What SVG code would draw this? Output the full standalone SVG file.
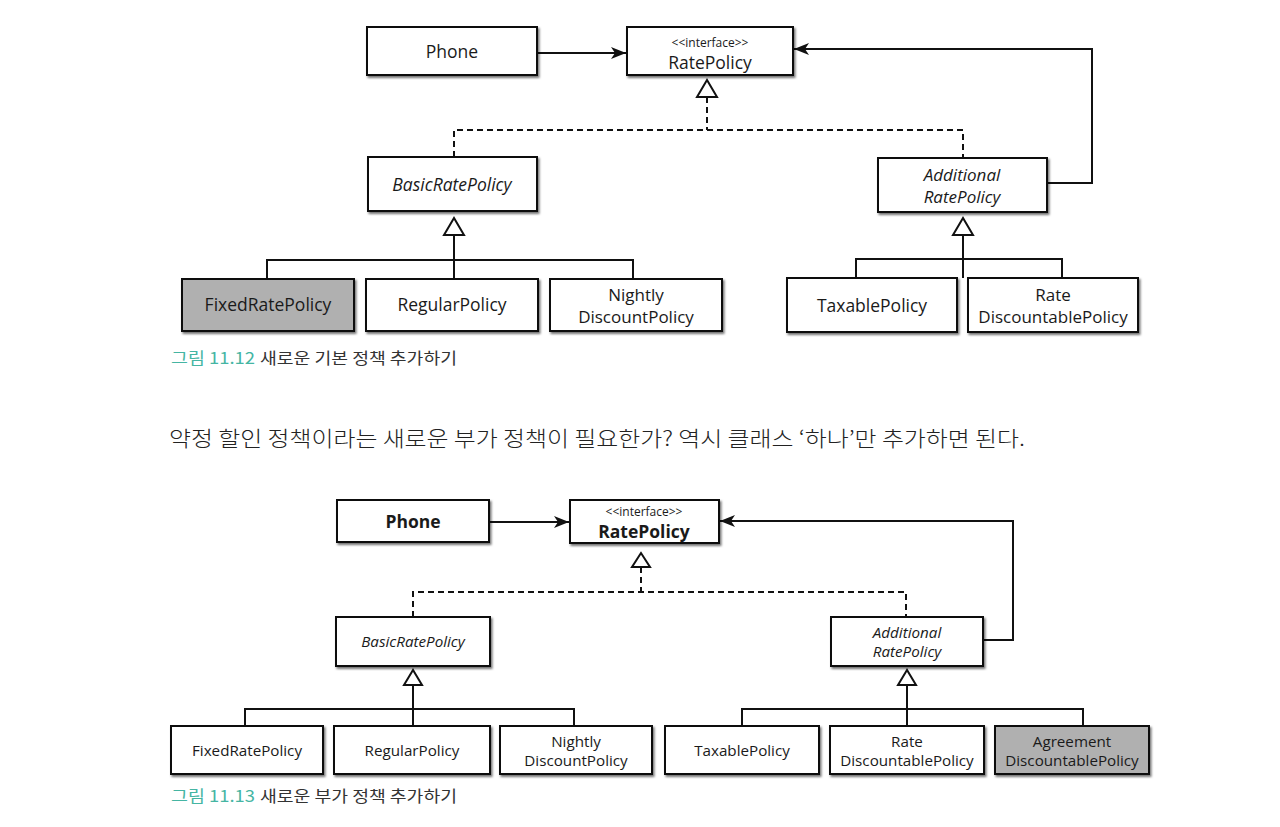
<svg xmlns="http://www.w3.org/2000/svg" width="1280" height="827" viewBox="0 0 1280 827">
<style>
.box{fill:#fff;stroke:#111;stroke-width:2;filter:url(#sh)}
.gray{fill:#b0b0b0}
.t1{font-family:"Open Sans","Noto Sans",sans-serif;font-size:17.5px;fill:#1a1a1a;text-anchor:middle;dominant-baseline:central}
.m{font-size:17px}
.t2{font-family:"Open Sans","Noto Sans",sans-serif;font-size:15.2px;fill:#1a1a1a;text-anchor:middle;dominant-baseline:central}
.st{font-family:"Open Sans","Noto Sans",sans-serif;font-size:12px;fill:#1a1a1a;text-anchor:middle;dominant-baseline:central}
.it{font-style:italic}
.b{font-weight:700}
.ln{fill:none;stroke:#111;stroke-width:2}
.ds{fill:none;stroke:#111;stroke-width:2;stroke-dasharray:6 4}
.tri{fill:#fff;stroke:#111;stroke-width:2;stroke-linejoin:miter}
.cap{font-family:"Noto Sans CJK KR","Noto Sans",sans-serif;font-size:16px}
.teal{fill:#45b5a3}
.dark{fill:#333}
.body{font-family:"Noto Sans CJK KR","Noto Sans",sans-serif;font-size:21px;font-weight:300;fill:#222}
</style>
<defs>
<filter id="sh" x="-10%" y="-10%" width="125%" height="135%">
<feDropShadow dx="1.5" dy="2" stdDeviation="1.3" flood-color="#000" flood-opacity="0.55"/>
</filter>
<marker id="arr" markerUnits="userSpaceOnUse" markerWidth="16" markerHeight="12" refX="15" refY="6" orient="auto">
<path d="M0,0 L15,6 L0,12 L4,6 z" fill="#111"/>
</marker>
</defs>
<rect width="1280" height="827" fill="#fff"/>

<g id="connectors">
<!-- figure 11.12 -->
<line class="ln" x1="537" y1="53" x2="626" y2="53" marker-end="url(#arr)"/>
<polyline class="ln" points="1047,183 1092,183 1092,49 794,49" marker-end="url(#arr)"/>
<polygon class="tri" points="707,80 697,97 717,97"/>
<polyline class="ds" points="707,97 707,130"/>
<polyline class="ds" points="454,157 454,130 963,130 963,158"/>
<polygon class="tri" points="454,218 444,235 464,235"/>
<line class="ln" x1="454" y1="235" x2="454" y2="279"/>
<polyline class="ln" points="267,279 267,260 633,260 633,279"/>
<polygon class="tri" points="963,218 953,235 973,235"/>
<line class="ln" x1="963" y1="235" x2="963" y2="278"/>
<polyline class="ln" points="856,278 856,259 1062,259 1062,278"/>
<!-- figure 11.13 -->
<line class="ln" x1="490" y1="522" x2="569" y2="522" marker-end="url(#arr)"/>
<polyline class="ln" points="983,640 1013,640 1013,521 720,521" marker-end="url(#arr)"/>
<polygon class="tri" points="641,553 632,567 650,567"/>
<polyline class="ds" points="641,567 641,592"/>
<polyline class="ds" points="413,617 413,592 906,592 906,617"/>
<polygon class="tri" points="413,670 404,685 422,685"/>
<line class="ln" x1="413" y1="685" x2="413" y2="726"/>
<polyline class="ln" points="245,726 245,709 574,709 574,726"/>
<polygon class="tri" points="907,670 898,685 916,685"/>
<line class="ln" x1="907" y1="685" x2="907" y2="726"/>
<polyline class="ln" points="742,726 742,709 1083,709 1083,726"/>
</g>

<!-- figure 11.12 nodes -->
<g id="phone1"><rect class="box" x="367" y="27" width="170" height="48"/><text class="t1" x="452" y="51">Phone</text></g>
<g id="ratepolicy1"><rect class="box" x="627" y="27" width="166" height="48"/><text class="st" x="710" y="42">&lt;&lt;interface&gt;&gt;</text><text class="t1" x="710" y="62">RatePolicy</text></g>
<g id="basic1"><rect class="box" x="368" y="157" width="169" height="54"/><text class="t1 it" x="452" y="184">BasicRatePolicy</text></g>
<g id="additional1"><rect class="box" x="878" y="158" width="169" height="54"/><text class="t1 m it"><tspan x="962" y="174">Additional</tspan><tspan x="962" y="196">RatePolicy</tspan></text></g>
<g id="fixed1"><rect class="box gray" x="182" y="279" width="172" height="52"/><text class="t1" x="268" y="304" style="font-weight:500">FixedRatePolicy</text></g>
<g id="regular1"><rect class="box" x="366" y="279" width="172" height="52"/><text class="t1" x="452" y="304">RegularPolicy</text></g>
<g id="nightly1"><rect class="box" x="550" y="279" width="172" height="52"/><text class="t1 m"><tspan x="636" y="294">Nightly</tspan><tspan x="636" y="316">DiscountPolicy</tspan></text></g>
<g id="taxable1"><rect class="box" x="787" y="278" width="170" height="54"/><text class="t1" x="872" y="305">TaxablePolicy</text></g>
<g id="ratedisc1"><rect class="box" x="968" y="278" width="170" height="54"/><text class="t1 m"><tspan x="1053" y="294">Rate</tspan><tspan x="1053" y="316">DiscountablePolicy</tspan></text></g>

<g id="caption1"><text class="cap teal" x="171" y="364" textLength="84" lengthAdjust="spacingAndGlyphs">그림 11.12</text><text class="cap dark" x="260" y="364" textLength="197" lengthAdjust="spacingAndGlyphs">새로운 기본 정책 추가하기</text></g>

<g id="bodytext"><text class="body" x="169" y="446" textLength="856" lengthAdjust="spacingAndGlyphs">약정 할인 정책이라는 새로운 부가 정책이 필요한가? 역시 클래스 ‘하나’만 추가하면 된다.</text></g>

<!-- figure 11.13 nodes -->
<g id="phone2"><rect class="box" x="337" y="500" width="152" height="42"/><text class="t1 b" x="413" y="521">Phone</text></g>
<g id="ratepolicy2"><rect class="box" x="570" y="500" width="149" height="43"/><text class="st" x="644" y="511">&lt;&lt;interface&gt;&gt;</text><text class="t1 b" x="644" y="531">RatePolicy</text></g>
<g id="basic2"><rect class="box" x="336" y="617" width="154" height="49"/><text class="t2 it" x="413" y="641">BasicRatePolicy</text></g>
<g id="additional2"><rect class="box" x="831" y="617" width="152" height="49"/><text class="t2 it"><tspan x="907" y="632">Additional</tspan><tspan x="907" y="651">RatePolicy</tspan></text></g>
<g id="fixed2"><rect class="box" x="171" y="726" width="152" height="48"/><text class="t2" x="247" y="750">FixedRatePolicy</text></g>
<g id="regular2"><rect class="box" x="334" y="726" width="156" height="48"/><text class="t2" x="412" y="750">RegularPolicy</text></g>
<g id="nightly2"><rect class="box" x="500" y="726" width="152" height="48"/><text class="t2"><tspan x="576" y="740.5">Nightly</tspan><tspan x="576" y="759.5">DiscountPolicy</tspan></text></g>
<g id="taxable2"><rect class="box" x="665" y="726" width="154" height="48"/><text class="t2" x="742" y="750">TaxablePolicy</text></g>
<g id="ratedisc2"><rect class="box" x="830" y="726" width="154" height="48"/><text class="t2"><tspan x="907" y="740.5">Rate</tspan><tspan x="907" y="759.5">DiscountablePolicy</tspan></text></g>
<g id="agreement2"><rect class="box gray" x="995" y="726" width="154" height="48"/><text class="t2"><tspan x="1072" y="740.5">Agreement</tspan><tspan x="1072" y="759.5">DiscountablePolicy</tspan></text></g>

<g id="caption2"><text class="cap teal" x="171" y="802" textLength="84" lengthAdjust="spacingAndGlyphs">그림 11.13</text><text class="cap dark" x="260" y="802" textLength="197" lengthAdjust="spacingAndGlyphs">새로운 부가 정책 추가하기</text></g>
</svg>
